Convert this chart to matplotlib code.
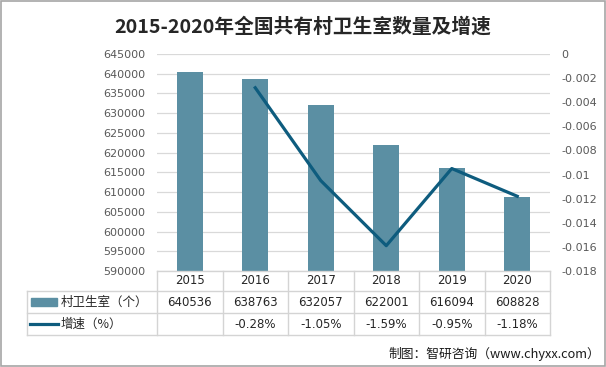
import matplotlib.pyplot as plt
from matplotlib.patches import Rectangle
from matplotlib.lines import Line2D
from matplotlib.transforms import blended_transform_factory

plt.rcParams['font.family'] = ['Noto Sans CJK SC', 'DejaVu Sans']

years = ['2015', '2016', '2017', '2018', '2019', '2020']
clinics = [640536, 638763, 632057, 622001, 616094, 608828]
growth = [None, -0.0028, -0.0105, -0.0159, -0.0095, -0.0118]
growth_labels = ['', '-0.28%', '-1.05%', '-1.59%', '-0.95%', '-1.18%']

W, H = 606, 367
bar_color = '#5B8FA3'
line_color = '#0E5C7E'
grid_color = '#D9D9D9'
tick_color = '#595959'
num_font = ['DejaVu Sans']


def fy(py):
    # pixel row (from top) -> figure fraction
    return 1 - py / H


def fx(px):
    return px / W


fig = plt.figure(figsize=(W / 100, H / 100), dpi=100)
ax = fig.add_axes([fx(157), fy(271), fx(550) - fx(157), fy(54) - fy(271)])
xs = list(range(len(years)))

ax.bar(xs, clinics, width=0.4, color=bar_color, zorder=2)
ax.set_xlim(-0.5, len(years) - 0.5)
ax.set_ylim(590000, 645000)
ax.set_yticks(range(590000, 645001, 5000))
ax.set_xticks([])
ax.grid(axis='y', color=grid_color, linewidth=0.9, zorder=0)
for s in ax.spines.values():
    s.set_visible(False)
ax.tick_params(axis='y', length=0, labelsize=8, labelcolor=tick_color, pad=8.5)
for lab in ax.get_yticklabels():
    lab.set_family(num_font)

ax2 = ax.twinx()
gx = [x for x, g in zip(xs, growth) if g is not None]
gy = [g for g in growth if g is not None]
ax2.plot(gx, gy, color=line_color, linewidth=2.3, zorder=3)
ax2.set_ylim(-0.018, 0)
ticks = [-0.018, -0.016, -0.014, -0.012, -0.01, -0.008, -0.006, -0.004, -0.002, 0]
ax2.set_yticks(ticks)
ax2.set_yticklabels(['0' if t == 0 else f'{t:g}' for t in ticks], family=num_font)
for s in ax2.spines.values():
    s.set_visible(False)
ax2.tick_params(axis='y', length=0, labelsize=8, labelcolor=tick_color, pad=8)

# data table below the chart
tr = blended_transform_factory(ax.transData, fig.transFigure)
tc = '#D4D4D4'
fig.add_artist(Line2D([fx(157), fx(550)], [fy(271), fy(271)], color=tc, lw=1, transform=fig.transFigure))
for py in (291, 313, 335):
    fig.add_artist(Line2D([fx(27), fx(550)], [fy(py), fy(py)], color=tc, lw=1, transform=fig.transFigure))
fig.add_artist(Line2D([fx(27), fx(27)], [fy(291), fy(335)], color=tc, lw=1, transform=fig.transFigure))
for b in range(len(years) + 1):
    fig.add_artist(Line2D([b - 0.5, b - 0.5], [fy(271), fy(335)], color=tc, lw=1, transform=tr))

for i, yr in enumerate(years):
    fig.text(i, fy(281), yr, transform=tr, ha='center', va='center', fontsize=8.5, color='#262626',
             family=num_font)
    fig.text(i, fy(302), str(clinics[i]), transform=tr, ha='center', va='center', fontsize=8.5,
             color='#262626', family=num_font)
    fig.text(i, fy(324), growth_labels[i], transform=tr, ha='center', va='center', fontsize=8.5,
             color='#262626', family=num_font)

fig.add_artist(Rectangle((fx(31), fy(306)), fx(57) - fx(31), fy(298) - fy(306), color=bar_color,
                         transform=fig.transFigure))
fig.add_artist(Line2D([fx(30), fx(58)], [fy(324), fy(324)], color=line_color, lw=2.3, transform=fig.transFigure))
fig.text(fx(61), fy(302), '村卫生室（个）', ha='left', va='center', fontsize=9, color='#262626')
fig.text(fx(61), fy(324), '增速（%）', ha='left', va='center', fontsize=9, color='#262626')

fig.text(0.5, fy(27), '2015-2020年全国共有村卫生室数量及增速', ha='center', va='center',
         fontsize=14.2, fontweight='bold', color='#262626')
fig.text(fx(600), fy(354), '制图：智研咨询（www.chyxx.com）', ha='right', va='center',
         fontsize=9.2, color='#1a1a1a')

fig.add_artist(Rectangle((0.001, 0.002), 0.997, 0.995, fill=False, edgecolor='#A6A6A6', lw=1.2,
                         transform=fig.transFigure))

fig.savefig('out.png', dpi=100)
